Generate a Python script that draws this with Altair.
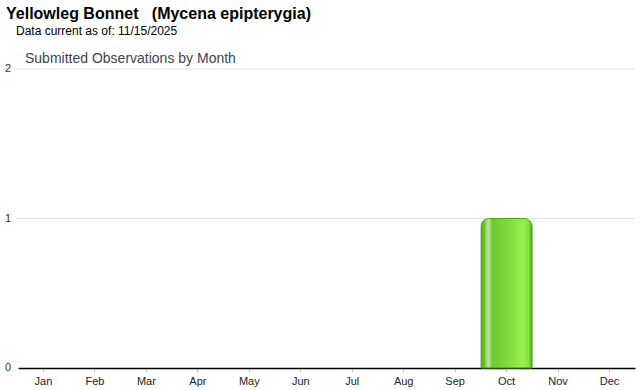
import altair as alt
import pandas as pd

months = ["Jan", "Feb", "Mar", "Apr", "May", "Jun", "Jul", "Aug", "Sep", "Oct", "Nov", "Dec"]
counts = [0, 0, 0, 0, 0, 0, 0, 0, 0, 1, 0, 0]
y_ticks = [0, 1, 2]

title_text = "Yellowleg Bonnet\u00a0\u00a0\u00a0(Mycena epipterygia)"
subtitle_text = "Data current as of: 11/15/2025"
heading_text = "Submitted Observations by Month"

df = pd.DataFrame({"month": months, "count": counts})
ticks_df = pd.DataFrame({"v": y_ticks, "lbl": [str(v) for v in y_ticks]})

FONT = "Liberation Sans"
Y_SCALE = alt.Scale(domain=[0, 2], nice=False)

gradient = {
    "gradient": "linear",
    "x1": 0, "y1": 0, "x2": 1, "y2": 0,
    "stops": [
        {"offset": 0.0, "color": "#4fa814"},
        {"offset": 0.06, "color": "#6cc22e"},
        {"offset": 0.14, "color": "#bfe8a6"},
        {"offset": 0.22, "color": "#6ec933"},
        {"offset": 0.5, "color": "#7fd93d"},
        {"offset": 0.82, "color": "#98ef50"},
        {"offset": 0.93, "color": "#86e046"},
        {"offset": 1.0, "color": "#4fa814"},
    ],
}

grid = alt.Chart(ticks_df).transform_filter(alt.datum.v > 0).mark_rule(
    color="#e3e3e3", strokeWidth=1,
).encode(
    y=alt.Y("v:Q", scale=Y_SCALE, axis=None),
    x=alt.value(-2), x2=alt.value(617),
)

ylabels = alt.Chart(ticks_df).mark_text(
    align="right", baseline="middle", font=FONT, fontSize=11, color="#333333",
).encode(
    y=alt.Y("v:Q", scale=Y_SCALE, axis=None),
    x=alt.value(-7),
    text="lbl:N",
)

bars = alt.Chart(df).transform_filter(alt.datum.count > 0).mark_bar(
    fill=gradient,
    stroke="#4ca515",
    strokeWidth=1,
    cornerRadiusTopLeft=8,
    cornerRadiusTopRight=8,
).encode(
    x=alt.X("month:N", sort=months, title=None,
            scale=alt.Scale(domain=months, paddingInner=0.01, paddingOuter=0.0),
            axis=alt.Axis(labelAngle=0, labelFont=FONT, labelFontSize=11,
                          labelColor="#222222", domainColor="#000000",
                          domainWidth=1.5, tickColor="#cccccc", tickSize=4,
                          labelPadding=3, grid=False)),
    y=alt.Y("count:Q", title=None, scale=Y_SCALE, axis=None),
)

title = alt.Chart(alt.Data(values=[{"t": title_text}])).mark_text(
    align="left", baseline="alphabetic", font=FONT, fontSize=16,
    fontWeight="bold", color="#000000",
).encode(text="t:N", x=alt.value(-12), y=alt.value(-50))

subtitle = alt.Chart(alt.Data(values=[{"t": subtitle_text}])).mark_text(
    align="left", baseline="alphabetic", font=FONT, fontSize=12,
    color="#000000",
).encode(text="t:N", x=alt.value(-2), y=alt.value(-34))

heading = alt.Chart(alt.Data(values=[{"t": heading_text}])).mark_text(
    align="left", baseline="alphabetic", font=FONT, fontSize=14,
    color="#444444",
).encode(text="t:N", x=alt.value(7), y=alt.value(-6))

chart = alt.layer(grid, ylabels, bars, title, subtitle, heading).properties(
    width=617,
    height=299,
    background="white",
    autosize=alt.AutoSizeParams(type="none"),
    padding={"left": 18, "top": 69, "right": 5, "bottom": 22},
).configure_view(stroke="transparent", strokeWidth=0)

chart.save("out.html", embed_options={"renderer": "svg", "actions": False})
